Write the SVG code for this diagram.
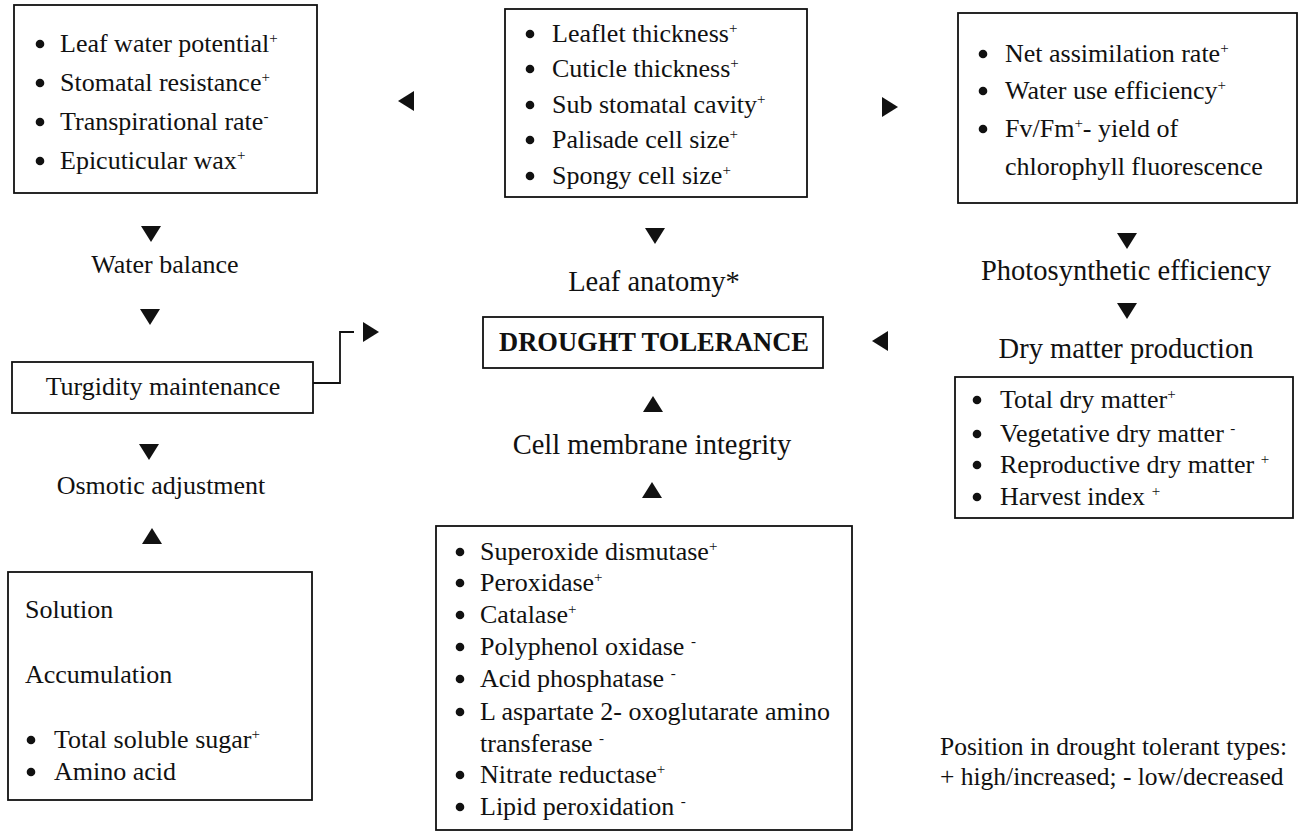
<svg xmlns="http://www.w3.org/2000/svg" xmlns:xlink="http://www.w3.org/1999/xlink" width="1309" height="832" viewBox="0 0 1309 832">
<style>
text{font-family:"Liberation Serif","Times New Roman",serif;fill:#111}
.t{font-size:26px}
.leg{font-size:25.5px}
.lab{font-size:26px}
.big{font-size:28.5px}
.bold{font-size:26.5px;font-weight:bold}
.box{fill:none;stroke:#111;stroke-width:1.8}
.sup{font-size:15px}
.con{fill:none;stroke:#111;stroke-width:1.8}
.mid{text-anchor:middle}
</style>
<defs>
<path id="tri" d="M-10,-8 L10,-8 L0,8 Z" fill="#111"/>
<circle id="dot" r="4.3" fill="#111"/>
</defs>
<rect width="1309" height="832" fill="#fff"/>

<g id="n-water-params">
<rect class="box" x="14" y="5" width="303" height="188"/>
<use href="#dot" x="40" y="44"/><text class="t" x="60" y="52">Leaf water potential<tspan class="sup" dy="-9">+</tspan></text>
<use href="#dot" x="40" y="83"/><text class="t" x="60" y="91">Stomatal resistance<tspan class="sup" dy="-9">+</tspan></text>
<use href="#dot" x="40" y="122"/><text class="t" x="60" y="130">Transpirational rate<tspan class="sup" dy="-9">-</tspan></text>
<use href="#dot" x="40" y="161"/><text class="t" x="60" y="169">Epicuticular wax<tspan class="sup" dy="-9">+</tspan></text>
</g>

<g id="n-anatomy-params">
<rect class="box" x="505" y="9" width="302" height="188"/>
<use href="#dot" x="530" y="34"/><text class="t" x="552" y="42">Leaflet thickness<tspan class="sup" dy="-9">+</tspan></text>
<use href="#dot" x="530" y="69"/><text class="t" x="552" y="77">Cuticle thickness<tspan class="sup" dy="-9">+</tspan></text>
<use href="#dot" x="530" y="105"/><text class="t" x="552" y="113">Sub stomatal cavity<tspan class="sup" dy="-9">+</tspan></text>
<use href="#dot" x="530" y="140"/><text class="t" x="552" y="148">Palisade cell size<tspan class="sup" dy="-9">+</tspan></text>
<use href="#dot" x="530" y="176"/><text class="t" x="552" y="184">Spongy cell size<tspan class="sup" dy="-9">+</tspan></text>
</g>

<g id="n-photo-params">
<rect class="box" x="958" y="13" width="339" height="190"/>
<use href="#dot" x="983" y="54"/><text class="t" x="1005" y="62">Net assimilation rate<tspan class="sup" dy="-9">+</tspan></text>
<use href="#dot" x="983" y="91"/><text class="t" x="1005" y="99">Water use efficiency<tspan class="sup" dy="-9">+</tspan></text>
<use href="#dot" x="983" y="129"/><text class="t" x="1005" y="137">Fv/Fm<tspan class="sup" dy="-9">+</tspan><tspan dy="9">- yield of</tspan></text>
<text class="t" x="1005" y="175">chlorophyll fluorescence</text>
</g>

<g id="n-water-balance"><text class="lab mid" x="165" y="273">Water balance</text></g>

<g id="n-turgidity">
<rect class="box" x="12" y="362" width="301" height="51"/>
<text class="lab mid" x="163" y="395">Turgidity maintenance</text>
</g>

<g id="n-osmotic"><text class="lab mid" x="161" y="494">Osmotic adjustment</text></g>

<g id="n-solution">
<rect class="box" x="8" y="572" width="304" height="228"/>
<text class="t" x="25" y="618">Solution</text>
<text class="t" x="25" y="683">Accumulation</text>
<use href="#dot" x="31" y="740"/><text class="t" x="54" y="748">Total soluble  sugar<tspan class="sup" dy="-9">+</tspan></text>
<use href="#dot" x="31" y="772"/><text class="t" x="54" y="780">Amino acid</text>
</g>

<g id="n-leaf-anatomy"><text class="big mid" x="654" y="291">Leaf anatomy*</text></g>

<g id="n-drought">
<rect class="box" x="483" y="317" width="340" height="51"/>
<text class="bold mid" x="654" y="351">DROUGHT TOLERANCE</text>
</g>

<g id="n-membrane"><text class="big mid" x="652" y="454">Cell membrane integrity</text></g>

<g id="n-enzymes">
<rect class="box" x="436" y="526" width="416" height="304"/>
<use href="#dot" x="460" y="552"/><text class="t" x="480" y="560">Superoxide dismutase<tspan class="sup" dy="-9">+</tspan></text>
<use href="#dot" x="460" y="583"/><text class="t" x="480" y="591">Peroxidase<tspan class="sup" dy="-9">+</tspan></text>
<use href="#dot" x="460" y="615"/><text class="t" x="480" y="623">Catalase<tspan class="sup" dy="-9">+</tspan></text>
<use href="#dot" x="460" y="647"/><text class="t" x="480" y="655">Polyphenol oxidase <tspan class="sup" dy="-9">-</tspan></text>
<use href="#dot" x="460" y="679"/><text class="t" x="480" y="687">Acid phosphatase <tspan class="sup" dy="-9">-</tspan></text>
<use href="#dot" x="460" y="712"/><text class="t" x="480" y="720">L aspartate 2- oxoglutarate amino</text>
<text class="t" x="480" y="752">transferase <tspan class="sup" dy="-9">-</tspan></text>
<use href="#dot" x="460" y="775"/><text class="t" x="480" y="783">Nitrate reductase<tspan class="sup" dy="-9">+</tspan></text>
<use href="#dot" x="460" y="807"/><text class="t" x="480" y="815">Lipid peroxidation <tspan class="sup" dy="-9">-</tspan></text>
</g>

<g id="n-photosynthetic"><text class="big mid" x="1126" y="280">Photosynthetic efficiency</text></g>
<g id="n-dry-matter"><text class="big mid" x="1126" y="358">Dry matter production</text></g>

<g id="n-dry-params">
<rect class="box" x="955" y="377" width="338" height="141"/>
<use href="#dot" x="977" y="400"/><text class="t" x="1000" y="408">Total dry matter<tspan class="sup" dy="-9">+</tspan></text>
<use href="#dot" x="977" y="434"/><text class="t" x="1000" y="442">Vegetative dry matter <tspan class="sup" dy="-9">-</tspan></text>
<use href="#dot" x="977" y="465"/><text class="t" x="1000" y="473">Reproductive dry matter <tspan class="sup" dy="-9">+</tspan></text>
<use href="#dot" x="977" y="497"/><text class="t" x="1000" y="505">Harvest index <tspan class="sup" dy="-9">+</tspan></text>
</g>

<g id="n-legend">
<text class="leg" x="940" y="755">Position in drought tolerant types:</text>
<text class="leg" x="940" y="785">+ high/increased; - low/decreased</text>
</g>

<g id="connectors">
<use href="#tri" transform="translate(406,101) rotate(90)"/>
<use href="#tri" transform="translate(890,107) rotate(-90)"/>
<use href="#tri" transform="translate(151,234)"/>
<use href="#tri" transform="translate(150,317)"/>
<use href="#tri" transform="translate(149,452)"/>
<use href="#tri" transform="translate(152,536) rotate(180)"/>
<use href="#tri" transform="translate(655,236)"/>
<use href="#tri" transform="translate(653,404) rotate(180)"/>
<use href="#tri" transform="translate(652,490) rotate(180)"/>
<use href="#tri" transform="translate(880,341) rotate(90)"/>
<use href="#tri" transform="translate(1127,241)"/>
<use href="#tri" transform="translate(1127,311)"/>
<path class="con" d="M313,383 H340 V332 H354"/>
<use href="#tri" transform="translate(371,332) rotate(-90)"/>
</g>
</svg>
